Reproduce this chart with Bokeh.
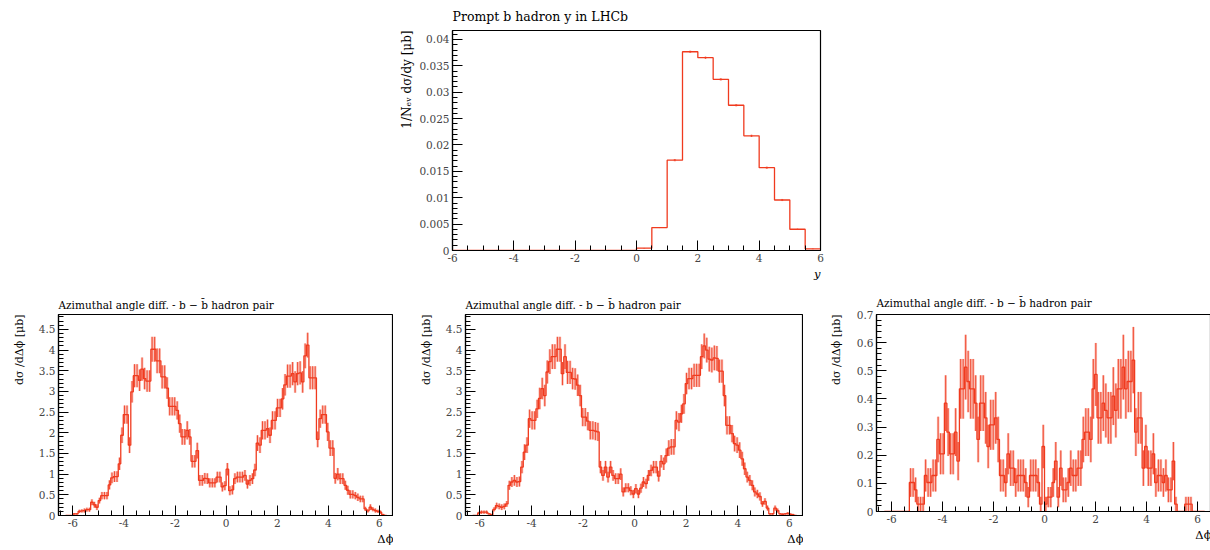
import math
from bokeh.plotting import figure
from bokeh.layouts import column, row
from bokeh.models import Spacer, Range1d, FixedTicker, NumeralTickFormatter, Title
from bokeh.embed import file_html
from bokeh.resources import INLINE

RED = "#f03a1e"
FONT = "DejaVu Serif"

# ---------------- data ----------------
# Top: prompt b hadron rapidity, 0.5-wide bins from -6 to 6
y_edges = [-6.0, -5.5, -5.0, -4.5, -4.0, -3.5, -3.0, -2.5, -2.0, -1.5, -1.0, -0.5,
           0.0, 0.5, 1.0, 1.5, 2.0, 2.5, 3.0, 3.5, 4.0, 4.5, 5.0, 5.5, 6.0]
y_vals = [0, 0, 0, 0, 0, 0, 0, 0, 0, 0, 0, 0,
          0.00044, 0.00435, 0.01713, 0.03767, 0.03654, 0.03244, 0.02753, 0.02173,
          0.01569, 0.00957, 0.00403, 0.00031]
y_errs = [0, 0, 0, 0, 0, 0, 0, 0, 0, 0, 0, 0,
          0.00005, 0.0001, 0.0002, 0.0002, 0.0002, 0.0002, 0.0002, 0.0002,
          0.0002, 0.0002, 0.0001, 0.00005]

# Azimuthal angle difference, 128 bins over [-2pi, 2pi]
dphi_nbins = 128
dphi_edges = [-2 * math.pi + i * (4 * math.pi / dphi_nbins) for i in range(dphi_nbins + 1)]

dphi1_vals = [
    0, 0, 0, 0.04, 0.04, 0.10, 0.11, 0.12, 0.14, 0.14,
    0.32, 0.26, 0.20, 0.36, 0.48, 0.48, 0.48, 0.74, 0.91, 0.94,
    0.94, 1.25, 1.94, 2.44, 2.44, 1.70, 2.99, 3.38, 3.38, 3.27,
    3.54, 3.31, 3.25, 3.25, 4.02, 4.02, 3.74, 3.74, 3.35, 3.35,
    3.08, 2.64, 2.64, 2.64, 2.54, 2.22, 1.90, 1.90, 2.06, 1.90,
    1.31, 1.31, 1.57, 0.85, 0.85, 0.90, 0.89, 0.79, 0.79, 0.79,
    0.93, 0.93, 0.69, 0.72,
    1.12, 0.60, 0.62, 0.89, 0.93, 0.93, 0.93, 0.97, 0.76, 0.85,
    0.89, 1.10, 1.75, 1.70, 2.06, 2.06, 2.10, 1.94, 2.30, 2.30,
    2.60, 2.60, 2.82, 3.16, 3.37, 3.37, 3.43, 3.23, 3.43, 3.45,
    3.23, 3.86, 4.12, 3.33, 3.33, 3.33, 1.84, 2.34, 2.44, 2.44,
    2.02, 1.63, 1.63, 0.90, 1.00, 0.89, 0.89, 0.73, 0.61, 0.51,
    0.51, 0.48, 0.44, 0.40, 0.40, 0.16, 0.11, 0.20, 0.15, 0.12,
    0.10, 0.08, 0.02, 0.00]
dphi1_errs = [
    0, 0, 0, 0.02, 0.02, 0.04, 0.04, 0.05, 0.05, 0.05,
    0.07, 0.07, 0.07, 0.07, 0.09, 0.09, 0.09, 0.11, 0.13, 0.13,
    0.13, 0.15, 0.19, 0.22, 0.22, 0.19, 0.26, 0.28, 0.28, 0.26,
    0.28, 0.26, 0.26, 0.26, 0.30, 0.30, 0.30, 0.30, 0.28, 0.28,
    0.26, 0.22, 0.22, 0.22, 0.22, 0.22, 0.19, 0.19, 0.22, 0.19,
    0.15, 0.15, 0.19, 0.13, 0.13, 0.13, 0.13, 0.11, 0.11, 0.11,
    0.13, 0.13, 0.11, 0.11,
    0.15, 0.11, 0.11, 0.13, 0.13, 0.13, 0.13, 0.13, 0.11, 0.13,
    0.13, 0.15, 0.19, 0.19, 0.22, 0.22, 0.22, 0.19, 0.22, 0.22,
    0.22, 0.22, 0.26, 0.26, 0.28, 0.28, 0.28, 0.26, 0.28, 0.28,
    0.26, 0.30, 0.30, 0.28, 0.28, 0.28, 0.19, 0.22, 0.22, 0.22,
    0.22, 0.19, 0.19, 0.13, 0.15, 0.13, 0.13, 0.11, 0.11, 0.10,
    0.10, 0.09, 0.09, 0.08, 0.08, 0.05, 0.04, 0.07, 0.05, 0.05,
    0.04, 0.04, 0.02, 0]

dphi2_vals = [
    0, 0, 0.06, 0.08, 0.08, 0.08, 0.04, 0.02, 0.15, 0.24,
    0.22, 0.20, 0.22, 0.28, 0.73, 0.81, 0.85, 0.81, 0.82, 1.17,
    1.53, 1.70, 2.34, 2.30, 2.30, 2.58, 2.83, 3.07, 2.90, 3.47,
    3.72, 3.84, 3.84, 4.02, 4.02, 3.43, 3.84, 3.46, 3.46, 3.31,
    3.30, 3.15, 2.90, 2.38, 2.38, 2.28, 2.06, 2.06, 2.04, 2.02,
    1.17, 0.97, 1.17, 0.93, 1.17, 0.97, 0.89, 0.89, 1.00, 0.57,
    0.67, 0.67, 0.60, 0.52,
    0.65, 0.52, 0.66, 0.81, 0.77, 0.97, 1.09, 1.17, 1.17, 0.95,
    1.31, 1.25, 1.45, 1.63, 1.66, 1.66, 2.30, 2.26, 2.46, 2.70,
    3.19, 3.31, 3.31, 3.39, 3.39, 3.39, 3.84, 4.10, 4.00, 3.78,
    3.76, 3.81, 3.80, 3.49, 3.49, 2.90, 2.18, 2.18, 1.98, 1.74,
    1.70, 1.58, 1.37, 1.13, 0.93, 0.85, 0.73, 0.57, 0.52, 0.46,
    0.28, 0.34, 0.18, 0.04, 0.04, 0.18, 0.12, 0.04, 0.03, 0.04,
    0.05, 0.03, 0.02, 0.00]
dphi2_errs = [
    0, 0, 0.03, 0.04, 0.04, 0.04, 0.02, 0.02, 0.05, 0.07,
    0.07, 0.07, 0.07, 0.07, 0.11, 0.12, 0.13, 0.12, 0.12, 0.15,
    0.19, 0.19, 0.22, 0.22, 0.22, 0.22, 0.26, 0.26, 0.26, 0.28,
    0.30, 0.30, 0.30, 0.30, 0.30, 0.28, 0.30, 0.28, 0.28, 0.26,
    0.26, 0.26, 0.26, 0.22, 0.22, 0.22, 0.22, 0.22, 0.22, 0.22,
    0.15, 0.13, 0.15, 0.13, 0.15, 0.13, 0.13, 0.13, 0.14, 0.11,
    0.11, 0.11, 0.11, 0.10,
    0.11, 0.10, 0.11, 0.12, 0.12, 0.13, 0.14, 0.15, 0.15, 0.13,
    0.15, 0.15, 0.17, 0.19, 0.19, 0.19, 0.22, 0.22, 0.22, 0.24,
    0.26, 0.26, 0.26, 0.28, 0.28, 0.28, 0.30, 0.30, 0.30, 0.30,
    0.30, 0.30, 0.30, 0.28, 0.28, 0.26, 0.22, 0.22, 0.21, 0.19,
    0.19, 0.19, 0.17, 0.15, 0.13, 0.13, 0.12, 0.11, 0.10, 0.10,
    0.07, 0.08, 0.06, 0.02, 0.02, 0.06, 0.05, 0.02, 0.02, 0.02,
    0.03, 0.02, 0.02, 0]

dphi3_vals = [
    0, 0, 0, 0, 0, 0, 0, 0, 0, 0,
    0.103, 0.103, 0.077, 0.026, 0.026, 0.026, 0.128, 0.103, 0.103, 0.128,
    0.128, 0.256, 0.205, 0.205, 0.385, 0.282, 0.205, 0.205, 0.282, 0.179,
    0.436, 0.436, 0.513, 0.462, 0.436, 0.436, 0.385, 0.256, 0.385, 0.385,
    0.333, 0.231, 0.308, 0.308, 0.333, 0.256, 0.128, 0.128, 0.103, 0.205,
    0.154, 0.154, 0.103, 0.128, 0.128, 0.128, 0.103, 0.051, 0.128, 0.128,
    0.128, 0.103, 0.026, 0.231,
    0.026, 0.051, 0.051, 0.103, 0.179, 0.051, 0.154, 0.077, 0.077, 0.103,
    0.154, 0.128, 0.128, 0.154, 0.154, 0.256, 0.282, 0.282, 0.256, 0.436,
    0.487, 0.333, 0.333, 0.385, 0.359, 0.333, 0.333, 0.410, 0.359, 0.436,
    0.436, 0.513, 0.436, 0.462, 0.462, 0.538, 0.282, 0.333, 0.333, 0.154,
    0.231, 0.154, 0.154, 0.205, 0.103, 0.128, 0.128, 0.103, 0.128, 0.077,
    0.077, 0.179, 0.026, 0, 0, 0, 0.026, 0.026, 0.026, 0,
    0, 0, 0, 0]
dphi3_errs = [
    0, 0, 0, 0, 0, 0, 0, 0, 0, 0,
    0.051, 0.051, 0.044, 0.026, 0.026, 0.026, 0.057, 0.051, 0.051, 0.057,
    0.057, 0.081, 0.073, 0.073, 0.099, 0.085, 0.073, 0.073, 0.085, 0.068,
    0.106, 0.106, 0.115, 0.109, 0.106, 0.106, 0.099, 0.081, 0.099, 0.099,
    0.092, 0.077, 0.089, 0.089, 0.092, 0.081, 0.057, 0.057, 0.051, 0.073,
    0.063, 0.063, 0.051, 0.057, 0.057, 0.057, 0.051, 0.036, 0.057, 0.057,
    0.057, 0.051, 0.026, 0.077,
    0.026, 0.036, 0.036, 0.051, 0.068, 0.036, 0.063, 0.044, 0.044, 0.051,
    0.063, 0.057, 0.057, 0.063, 0.063, 0.081, 0.085, 0.085, 0.081, 0.106,
    0.112, 0.092, 0.092, 0.099, 0.096, 0.092, 0.092, 0.103, 0.096, 0.106,
    0.106, 0.115, 0.106, 0.109, 0.109, 0.118, 0.085, 0.092, 0.092, 0.063,
    0.077, 0.063, 0.063, 0.073, 0.051, 0.057, 0.057, 0.051, 0.057, 0.044,
    0.044, 0.068, 0.026, 0, 0, 0, 0.026, 0.026, 0.026, 0,
    0, 0, 0, 0]

top_title = "Prompt b hadron y in LHCb"
top_ylabel = "1/N\u2091\u1d65 d\u03c3/dy [\u03bcb]"
top_xlabel = "y"
dphi_title = "Azimuthal angle diff. - b \u2212 b\u0304 hadron pair"
dphi_ylabel = "d\u03c3 /d\u0394\u03d5 [\u03bcb]"
dphi_xlabel = "\u0394\u03d5"

x_major = [-6, -4, -2, 0, 2, 4, 6]
x_minor = [-6.5 + 0.5 * i for i in range(27)]


def add_title(p, text, side, align, size, standoff, style="normal"):
    p.add_layout(Title(text=text, align=align, text_font=FONT, text_font_size=size,
                       text_font_style=style, text_color="black", standoff=standoff),
                 side)


def make_fig(fw, fh, bl, br, bt, bb, xr, yr, ymaj, ymin, yfmt, title, xlabel, ylabel,
             title_size, title_standoff, ylab_size, ylab_standoff):
    p = figure(frame_width=fw, frame_height=fh, min_border_left=bl, min_border_right=br,
               min_border_top=bt, min_border_bottom=bb, output_backend="svg",
               toolbar_location=None, x_range=Range1d(*xr), y_range=Range1d(*yr),
               title=None)
    p.background_fill_color = "white"
    p.border_fill_color = "white"
    p.outline_line_color = "black"
    p.outline_line_width = 1.2
    p.grid.visible = False
    p.xaxis.ticker = FixedTicker(ticks=x_major, minor_ticks=x_minor)
    p.yaxis.ticker = FixedTicker(ticks=ymaj, minor_ticks=ymin)
    p.xaxis.formatter = NumeralTickFormatter(format="0")
    p.yaxis.formatter = NumeralTickFormatter(format=yfmt)
    for ax in (p.xaxis[0], p.yaxis[0]):
        ax.axis_line_color = "black"
        ax.axis_line_width = 1.2
        ax.major_tick_in = 10
        ax.major_tick_out = 0
        ax.minor_tick_in = 5
        ax.minor_tick_out = 0
        ax.major_tick_line_color = "black"
        ax.minor_tick_line_color = "black"
        ax.major_label_text_font = FONT
        ax.major_label_text_font_size = "10.5px"
        ax.major_label_standoff = 3
    add_title(p, title, "above", "left", title_size, title_standoff)
    add_title(p, xlabel, "below", "right", "11.5px", 0,
              style="italic" if xlabel == "y" else "normal")
    add_title(p, ylabel, "left", "right", ylab_size, ylab_standoff)
    return p


def draw_hist(p, edges, vals, errs):
    xs = list(edges)
    ys = list(vals) + [vals[-1]]
    cx, lo, hi = [], [], []
    for i, (v, e) in enumerate(zip(vals, errs)):
        if e > 0:
            c = 0.5 * (edges[i] + edges[i + 1])
            cx.append(c)
            lo.append(v - e)
            hi.append(v + e)
    p.segment(cx, lo, cx, hi, line_color=RED, line_alpha=0.35, line_width=2.5)
    p.segment(cx, lo, cx, hi, line_color=RED, line_alpha=0.85, line_width=1)
    p.step(xs, ys, mode="after", line_color=RED, line_width=1.3)


# top figure
top_ymaj = [0, 0.005, 0.01, 0.015, 0.02, 0.025, 0.03, 0.035, 0.04]
top_ymin = [0.001 * i for i in range(42)]
ptop = make_fig(368, 220, 70, 20, 30, 35, (-6, 6), (0, 0.0417), top_ymaj, top_ymin,
                "0.[000]", top_title, top_xlabel, top_ylabel, "12.5px", 13, "12px", 6)
ptop.xaxis.ticker = FixedTicker(ticks=x_major, minor_ticks=[-6 + 0.5 * i for i in range(25)])
draw_hist(ptop, y_edges, y_vals, y_errs)

# bottom figures
b_ymaj = [0, 0.5, 1, 1.5, 2, 2.5, 3, 3.5, 4, 4.5]
b_ymin = [0.1 * i for i in range(49)]
p1 = make_fig(335, 201, 57, 0, 25, 35, (-6.56, 6.55), (0, 4.86), b_ymaj, b_ymin,
              "0.[0]", dphi_title, dphi_xlabel, dphi_ylabel, "10.5px", 8, "11px", 20)
draw_hist(p1, dphi_edges, dphi1_vals, dphi1_errs)

p2 = make_fig(338, 201, 72, 0, 25, 35, (-6.56, 6.55), (0, 4.86), b_ymaj, b_ymin,
              "0.[0]", dphi_title, dphi_xlabel, dphi_ylabel, "10.5px", 8, "11px", 20)
draw_hist(p2, dphi_edges, dphi2_vals, dphi2_errs)

c_ymaj = [0, 0.1, 0.2, 0.3, 0.4, 0.5, 0.6, 0.7]
c_ymin = [0.02 * i for i in range(36)]
p3 = make_fig(335, 197, 73, 0, 29, 35, (-6.59, 6.55), (0, 0.7), c_ymaj, c_ymin,
              "0.[0]", dphi_title, dphi_xlabel, dphi_ylabel, "10.5px", 12, "11px", 22)
draw_hist(p3, dphi_edges, dphi3_vals, dphi3_errs)

layout = column(row(Spacer(width=382, height=285), ptop), row(p1, p2, p3))
open("out.html", "w").write(file_html(layout, INLINE))
